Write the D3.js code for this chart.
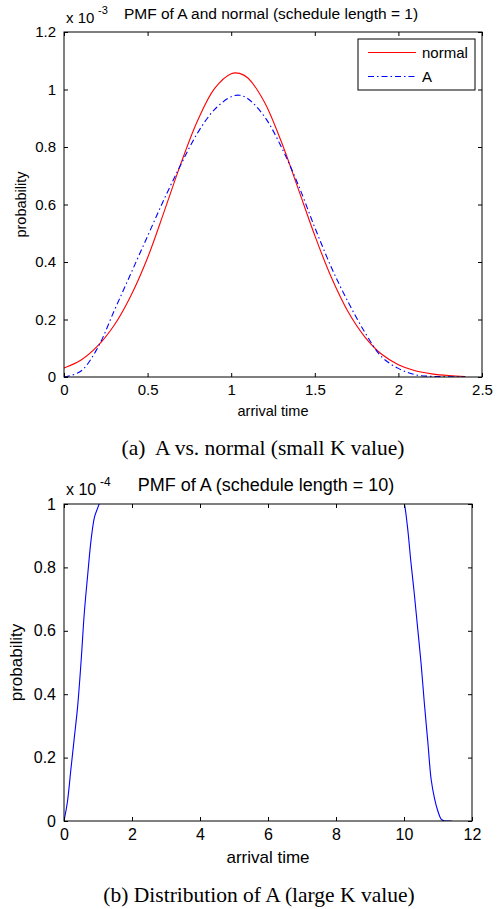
<!DOCTYPE html>
<html>
<head>
<meta charset="utf-8">
<script src="https://cdn.jsdelivr.net/npm/d3@7/dist/d3.min.js"></script>
<style>
html,body{margin:0;padding:0;background:#fff;}
svg{display:block;}
text{font-family:"Liberation Sans",Arial,Helvetica,sans-serif;fill:#000;}
.cap{font-family:"Liberation Serif","Times New Roman",serif;}
</style>
</head>
<body>
<script>
// ---- Panel (a) data: PMF of A and normal (schedule length = 1), values x 1e-3
const timeA = [0,0.1,0.2,0.3,0.4,0.5,0.6,0.7,0.8,0.9,1.0,1.05,1.1,1.2,1.3,1.4,1.5,1.6,1.7,1.8,1.9,2.0,2.1,2.2,2.3,2.4];
const normalVals = [0.031,0.058,0.107,0.18,0.283,0.415,0.577,0.744,0.893,1.003,1.055,1.056,1.040,0.955,0.818,0.656,0.492,0.345,0.226,0.139,0.079,0.043,0.022,0.011,0.005,0.002];
const aVals = [0,0.02,0.10,0.23,0.36,0.49,0.62,0.74,0.85,0.93,0.975,0.98,0.968,0.905,0.80,0.67,0.52,0.38,0.26,0.155,0.07,0.03,0.008,0.002,0.001,0];
const xTicksA = [0,0.5,1,1.5,2,2.5];
const yTicksA = [0,0.2,0.4,0.6,0.8,1,1.2];

// ---- Panel (b) data: PMF of A (schedule length = 10), values x 1e-4
const timeB = [0,0.1,0.2,0.3,0.4,0.5,0.6,0.7,0.8,0.9,1.0,1.1,1.2,1.3,2,4,6,8,9.7,9.8,9.9,10.0,10.1,10.2,10.3,10.4,10.5,10.6,10.7,10.8,10.9,11.0,11.1,11.2,11.3,11.4];
const bVals = [0,0.06,0.16,0.26,0.36,0.50,0.66,0.78,0.89,0.96,0.99,1.02,1.06,1.1,1.2,1.2,1.2,1.2,1.1,1.06,1.03,1.005,0.93,0.82,0.72,0.61,0.50,0.37,0.25,0.13,0.07,0.03,0.005,0,0,0];
const xTicksB = [0,2,4,6,8,10,12];
const yTicksB = [0,0.2,0.4,0.6,0.8,1];

const W = 499, H = 909;
const svg = d3.select("body").append("svg").attr("width", W).attr("height", H);
svg.append("rect").attr("width", W).attr("height", H).attr("fill", "#fff");

function fmt(d){ return String(+d.toFixed(2)); }

function panel(o){
  const g = svg.append("g");
  const x = d3.scaleLinear().domain(o.xDomain).range([o.left, o.right]);
  const y = d3.scaleLinear().domain(o.yDomain).range([o.bottom, o.top]);
  const clipId = "clip" + o.id;
  svg.append("clipPath").attr("id", clipId).append("rect")
    .attr("x", o.left).attr("y", o.top).attr("width", o.right - o.left).attr("height", o.bottom - o.top);

  // series
  o.series.forEach(s => {
    const line = d3.line().x(d => x(d[0])).y(d => y(d[1])).curve(d3.curveCatmullRom.alpha(0.5));
    g.append("path").datum(s.xs.map((v,i)=>[v, s.ys[i]]))
      .attr("d", line).attr("fill","none").attr("stroke", s.color)
      .attr("stroke-width", s.width || 1.1)
      .attr("stroke-dasharray", s.dash || null)
      .attr("clip-path", `url(#${clipId})`);
  });

  // axes with inward ticks
  const fs = o.tickFont;
  const ax = g.append("g").attr("transform", `translate(0,${o.bottom})`)
    .call(d3.axisBottom(x).tickValues(o.xTicks).tickSize(-4).tickPadding(6).tickFormat(fmt));
  ax.selectAll("text").attr("font-size", fs).attr("dy", "0.75em").attr("y", 7);
  const axT = g.append("g").attr("transform", `translate(0,${o.top})`)
    .call(d3.axisTop(x).tickValues(o.xTicks).tickSize(-4).tickFormat(""));
  const ay = g.append("g").attr("transform", `translate(${o.left},0)`)
    .call(d3.axisLeft(y).tickValues(o.yTicks).tickSize(-4).tickPadding(8).tickFormat(fmt));
  ay.selectAll("text").attr("font-size", fs);
  const ayR = g.append("g").attr("transform", `translate(${o.right},0)`)
    .call(d3.axisRight(y).tickValues(o.yTicks).tickSize(-4).tickFormat(""));
  [ax, axT, ay, ayR].forEach(a => {
    a.select(".domain").remove();
    a.selectAll("line").attr("stroke", "#000");
    a.selectAll("text").attr("font-family", '"Liberation Sans",Arial,sans-serif').attr("fill", "#000");
  });
  g.append("rect").attr("x", o.left).attr("y", o.top)
    .attr("width", o.right - o.left).attr("height", o.bottom - o.top)
    .attr("fill", "none").attr("stroke", "#000").attr("stroke-width", 1);

  // exponent label
  g.append("text").attr("x", o.left + 2).attr("y", o.top - 9).attr("font-size", o.tickFont).text("x 10");
  g.append("text").attr("x", o.left + o.expDx).attr("y", o.top - 18).attr("font-size", o.tickFont - 4).text(o.exp);
  // title
  g.append("text").attr("x", o.titleX).attr("y", o.top - 13).attr("text-anchor", "middle")
    .attr("font-size", o.titleFont).text(o.title);
  // axis labels
  g.append("text").attr("x", (o.left + o.right) / 2).attr("y", o.bottom + o.xlabDy)
    .attr("text-anchor", "middle").attr("font-size", o.labelFont).text("arrival time");
  g.append("text").attr("transform", `translate(${o.ylabX},${(o.top + o.bottom) / 2}) rotate(-90)`)
    .attr("text-anchor", "middle").attr("font-size", o.labelFont).text("probability");
  // caption
  g.append("text").attr("class", "cap").attr("x", o.capX).attr("y", o.capY)
    .attr("text-anchor", "middle").attr("font-size", o.capFont).attr("xml:space","preserve").text(o.caption);
  return {x, y, g};
}

const pA = panel({
  id: "A", left: 64, right: 482, top: 32, bottom: 377,
  xDomain: [0, 2.5], yDomain: [0, 1.2], xTicks: xTicksA, yTicks: yTicksA,
  tickFont: 15, titleFont: 15.5, labelFont: 14.5, ylabX: 26, xlabDy: 39, expDx: 34,
  exp: "-3", title: "PMF of A and normal (schedule length = 1)", titleX: 271,
  caption: "(a)  A vs. normal (small K value)", capX: 263, capY: 455, capFont: 21.5,
  series: [
    {xs: timeA, ys: normalVals, color: "#ff0000"},
    {xs: timeA, ys: aVals, color: "#0000ff", dash: "6,3,1.5,3"}
  ]
});

// legend
const lg = pA.g.append("g");
lg.append("rect").attr("x", 358).attr("y", 39).attr("width", 117).attr("height", 51)
  .attr("fill", "#fff").attr("stroke", "#000").attr("stroke-width", 1);
lg.append("line").attr("x1", 368).attr("x2", 416).attr("y1", 52.5).attr("y2", 52.5)
  .attr("stroke", "#ff0000").attr("stroke-width", 1.1);
lg.append("line").attr("x1", 368).attr("x2", 416).attr("y1", 76.5).attr("y2", 76.5)
  .attr("stroke", "#0000ff").attr("stroke-width", 1.1).attr("stroke-dasharray", "6,3,1.5,3");
lg.append("text").attr("x", 422).attr("y", 58).attr("font-size", 15).text("normal");
lg.append("text").attr("x", 422).attr("y", 82).attr("font-size", 15).text("A");

const pB = panel({
  id: "B", left: 64, right: 472, top: 504, bottom: 821,
  xDomain: [0, 12], yDomain: [0, 1], xTicks: xTicksB, yTicks: yTicksB,
  tickFont: 16, titleFont: 18, labelFont: 17, ylabX: 22, xlabDy: 42, expDx: 36,
  exp: "-4", title: "PMF of A (schedule length = 10)", titleX: 266,
  caption: "(b) Distribution of A (large K value)", capX: 259, capY: 902, capFont: 21.5,
  series: [
    {xs: timeB, ys: bVals, color: "#0000ff"}
  ]
});
</script>
</body>
</html>
